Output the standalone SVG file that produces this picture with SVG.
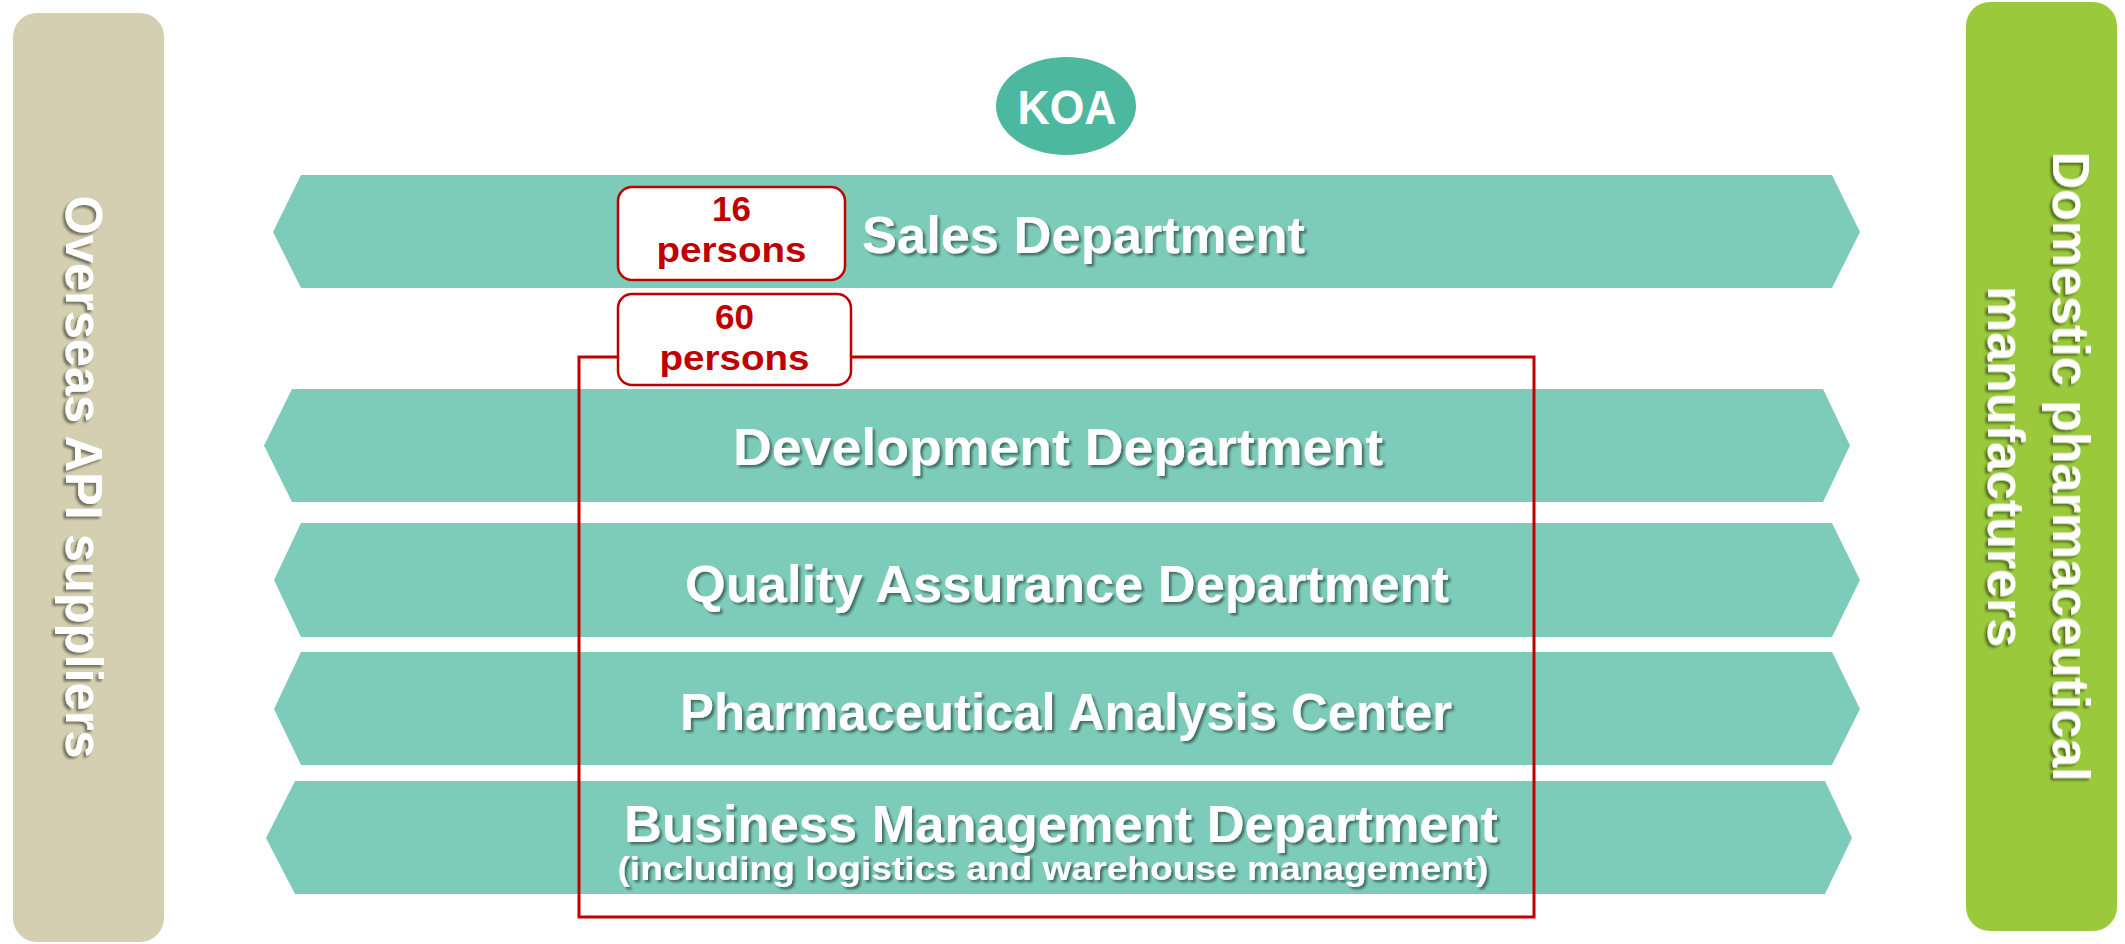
<svg xmlns="http://www.w3.org/2000/svg" width="2125" height="944" viewBox="0 0 2125 944">
  <defs>
    <filter id="shadow" x="-5%" y="-20%" width="110%" height="150%">
      <feDropShadow dx="2.5" dy="2.5" stdDeviation="1.2" flood-color="#000" flood-opacity="0.45"/>
    </filter>
  </defs>
  <style>
    .band { fill: #7DCCB9; }
    .label { font-family: "Liberation Sans", Arial, sans-serif; font-weight: bold; fill: #fff; text-anchor: middle; filter: url(#shadow); }
    .main { font-size: 52px; }
    .sub { font-size: 33px; }
    .side { font-size: 52px; }
    .count-box { fill: #fff; stroke: #C00000; stroke-width: 2.5; }
    .count { font-family: "Liberation Sans", Arial, sans-serif; font-weight: bold; font-size: 35px; fill: #C00000; text-anchor: middle; }
    .frame { fill: none; stroke: #C00000; stroke-width: 3; }
  </style>
  <rect width="2125" height="944" fill="#fff"/>

  <!-- Suppliers column -->
  <g id="overseas-suppliers">
    <rect x="13" y="13" width="151" height="929" rx="24" fill="#D3CFB0"/>
    <g transform="translate(66,477) rotate(90)">
      <text class="label side" x="0" y="0" textLength="563" lengthAdjust="spacingAndGlyphs">Overseas API suppliers</text>
    </g>
  </g>

  <!-- Customers column -->
  <g id="domestic-manufacturers">
    <rect x="1966" y="2" width="151" height="929" rx="24" fill="#9ACA3C"/>
    <g transform="translate(2053,466.5) rotate(90)">
      <text class="label side" x="0" y="0">Domestic pharmaceutical</text>
      <text class="label side" x="0" y="65">manufacturers</text>
    </g>
  </g>

  <!-- Company badge -->
  <g id="koa">
    <ellipse cx="1066" cy="106" rx="70" ry="49" fill="#4DB8A0"/>
    <text x="1067" y="124" font-family="'Liberation Sans', Arial, sans-serif" font-weight="bold" font-size="48" fill="#fff" text-anchor="middle" textLength="99" lengthAdjust="spacingAndGlyphs">KOA</text>
  </g>

  <!-- Departments -->
  <g id="sales-department">
    <polygon class="band" points="301,175 1832,175 1860,232 1832,288 301,288 273,232"/>
    <text class="label main" x="1083.5" y="253" textLength="443" lengthAdjust="spacingAndGlyphs">Sales Department</text>
  </g>
  <g id="development-department">
    <polygon class="band" points="292,389 1823,389 1850,445.5 1823,502 292,502 264,445.5"/>
    <text class="label main" x="1058" y="465" textLength="650" lengthAdjust="spacingAndGlyphs">Development Department</text>
  </g>
  <g id="quality-assurance-department">
    <polygon class="band" points="301,523 1832,523 1860,580 1832,637 301,637 274,580"/>
    <text class="label main" x="1067" y="602" textLength="764" lengthAdjust="spacingAndGlyphs">Quality Assurance Department</text>
  </g>
  <g id="pharmaceutical-analysis-center">
    <polygon class="band" points="301,652 1832,652 1860,709 1832,765 301,765 274,709"/>
    <text class="label main" x="1066" y="730" textLength="772" lengthAdjust="spacingAndGlyphs">Pharmaceutical Analysis Center</text>
  </g>
  <g id="business-management-department">
    <polygon class="band" points="295,781 1825,781 1852,838 1825,894 295,894 266,838"/>
    <text class="label main" x="1061" y="842" textLength="874" lengthAdjust="spacingAndGlyphs">Business Management Department</text>
    <text class="label sub" x="1053" y="880" textLength="871" lengthAdjust="spacingAndGlyphs">(including logistics and warehouse management)</text>
  </g>

  <!-- Outline grouping the non-sales departments -->
  <g id="connectors">
    <rect class="frame" x="579" y="357" width="955" height="560"/>
  </g>

  <!-- Headcounts -->
  <g id="sales-headcount">
    <rect class="count-box" x="618" y="187" width="227" height="93" rx="14"/>
    <text class="count" x="731.5" y="221">16</text>
    <text class="count" x="731.5" y="262" textLength="150" lengthAdjust="spacingAndGlyphs">persons</text>
  </g>
  <g id="group-headcount">
    <rect class="count-box" x="618" y="294" width="233" height="91" rx="14"/>
    <text class="count" x="734.5" y="329">60</text>
    <text class="count" x="734.5" y="370" textLength="150" lengthAdjust="spacingAndGlyphs">persons</text>
  </g>
</svg>
